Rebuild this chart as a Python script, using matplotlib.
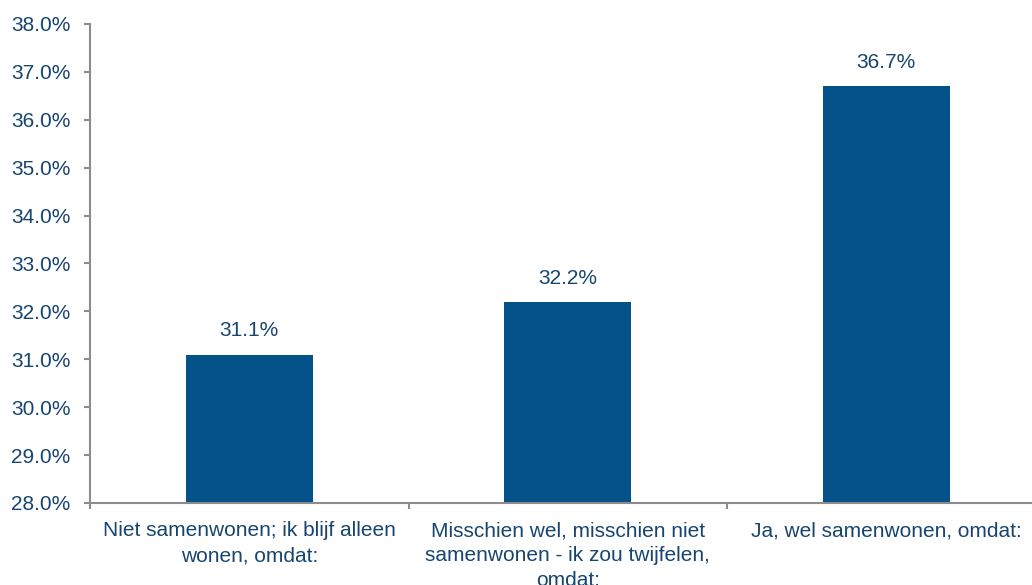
import matplotlib.pyplot as plt
from matplotlib.ticker import FixedLocator, PercentFormatter

plt.rcParams['font.family'] = ['Liberation Sans', 'DejaVu Sans']

categories = [
    "Niet samenwonen; ik blijf alleen\nwonen, omdat:",
    "Misschien wel, misschien niet\nsamenwonen - ik zou twijfelen,\nomdat:",
    "Ja, wel samenwonen, omdat:",
]
values = [31.1, 32.2, 36.7]

bar_color = "#03538A"
text_color = "#17456F"
axis_color = "#8C8C8C"

fig = plt.figure(figsize=(10.32, 5.85), dpi=100)
# right edge runs a bit past the figure, as in the reference
ax = fig.add_axes([90 / 1032, 1 - 503 / 585, 955.5 / 1032, 479 / 585])

x = list(range(len(categories)))
ax.bar(x, values, width=0.4, color=bar_color, bottom=0)

for xi, v in zip(x, values):
    ax.annotate(f"{v:.1f}%", (xi, v), xytext=(0, 17), textcoords="offset points",
                ha="center", va="center", fontsize=15, color=text_color)

ax.set_xlim(-0.5, len(categories) - 0.5)
ax.set_ylim(28, 38)
ax.set_yticks([28 + i for i in range(11)])
ax.yaxis.set_major_formatter(PercentFormatter(decimals=1))

ax.set_xticks(x)
ax.set_xticklabels(categories, linespacing=1.4)
ax.xaxis.set_minor_locator(FixedLocator([-0.5, 0.5, 1.5, 2.5]))
ax.tick_params(axis="x", which="major", length=0, pad=13, labelsize=15, labelcolor=text_color)
ax.tick_params(axis="x", which="minor", length=4, width=1.5, color=axis_color)
ax.tick_params(axis="y", length=4, width=1.5, color=axis_color, pad=10,
               labelsize=15, labelcolor=text_color)

for s in ["top", "right"]:
    ax.spines[s].set_visible(False)
for s in ["left", "bottom"]:
    ax.spines[s].set_color(axis_color)
    ax.spines[s].set_linewidth(1.5)

fig.savefig("out.png", dpi=100)
